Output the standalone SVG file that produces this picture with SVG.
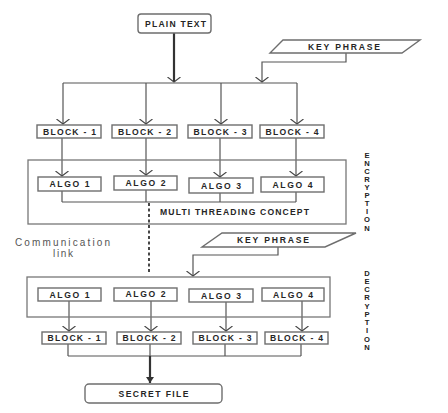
<svg xmlns="http://www.w3.org/2000/svg" width="448" height="413" viewBox="0 0 448 413">
  <style>
    .bg { fill: #ffffff; }
    .box { fill: #ffffff; stroke: #6e6e6e; stroke-width: 1.4; }
    .frame { fill: none; stroke: #777777; stroke-width: 1.3; }
    .lbl { font-family: "Liberation Sans", Arial, sans-serif; font-weight: bold; font-size: 8.6px; fill: #262626; text-anchor: middle; dominant-baseline: central; }
    .side { font-family: "Liberation Sans", Arial, sans-serif; font-weight: bold; font-size: 7.6px; fill: #222222; text-anchor: middle; dominant-baseline: central; }
    .note { font-family: "Liberation Sans", Arial, sans-serif; font-size: 10px; fill: #555555; text-anchor: middle; dominant-baseline: central; }
    .wire { fill: none; stroke: #555555; stroke-width: 1.2; }
    .thick { fill: none; stroke: #333333; stroke-width: 2.2; }
    .dash { fill: none; stroke: #333333; stroke-width: 1.8; stroke-dasharray: 3 2.5; }
  </style>
  <defs>
    <marker id="vhead" markerUnits="userSpaceOnUse" viewBox="0 0 6 14" refX="5" refY="7" markerWidth="6" markerHeight="14" orient="auto">
      <path d="M0,0.5 L5,7 L0,13.5" fill="none" stroke="#444444" stroke-width="1.1"/>
    </marker>
    <marker id="solidhead" markerUnits="userSpaceOnUse" viewBox="0 0 6 8" refX="6" refY="4" markerWidth="6" markerHeight="8" orient="auto">
      <path d="M0,0 L6,4 L0,8 Z" fill="#333333"/>
    </marker>
  </defs>

  <rect class="bg" x="0" y="0" width="448" height="413"/>

  <!-- connectors -->
  <g id="connectors">
    <!-- plain text down to the split bus -->
    <path class="thick" d="M174,33 V82" marker-end="url(#vhead)"/>
    <!-- key phrase (encryption) into the bus -->
    <path class="wire" d="M346,53 V62 H262 V82" marker-end="url(#vhead)"/>
    <!-- split bus -->
    <path class="wire" d="M63,83 H297"/>
    <path class="wire" d="M63,83 V124" marker-end="url(#vhead)"/>
    <path class="wire" d="M146,83 V124" marker-end="url(#vhead)"/>
    <path class="wire" d="M221,83 V124" marker-end="url(#vhead)"/>
    <path class="wire" d="M297,83 V124" marker-end="url(#vhead)"/>
    <!-- blocks into encryption algorithms -->
    <path class="wire" d="M62,138 V176" marker-end="url(#vhead)"/>
    <path class="wire" d="M146,138 V175" marker-end="url(#vhead)"/>
    <path class="wire" d="M220,138 V177" marker-end="url(#vhead)"/>
    <path class="wire" d="M296,138 V176" marker-end="url(#vhead)"/>
    <!-- encryption join -->
    <path class="wire" d="M62,191 V202 M146,190 V202 M220,193 V202 M296,192 V202 M62,202 H296"/>
    <!-- communication link -->
    <path class="dash" d="M149,203 V272"/>
    <!-- key phrase (decryption) -->
    <path class="wire" d="M278,247 V255 H193 V276" marker-end="url(#vhead)"/>
    <!-- decryption algorithms into blocks -->
    <path class="wire" d="M69,301 V331" marker-end="url(#vhead)"/>
    <path class="wire" d="M151,301 V331" marker-end="url(#vhead)"/>
    <path class="wire" d="M226,302 V331" marker-end="url(#vhead)"/>
    <path class="wire" d="M302,301 V331" marker-end="url(#vhead)"/>
    <!-- decryption join -->
    <path class="wire" d="M68,344 V356 M150,344 V356 M225,344 V356 M301,344 V356 M68,356 H301"/>
    <path class="thick" d="M150,356 V383" marker-end="url(#solidhead)"/>
  </g>

  <!-- containers -->
  <g id="encryption-stage">
    <rect class="frame" x="28" y="160" width="318" height="64"/>
    <text class="lbl" x="234.5" y="212" textLength="149" lengthAdjust="spacing">MULTI THREADING CONCEPT</text>
  </g>
  <g id="decryption-stage">
    <rect class="frame" x="27" y="277" width="303" height="40"/>
  </g>

  <g id="plain-text">
    <rect class="box" x="138" y="14" width="73" height="19" rx="3"/>
    <text class="lbl" x="175.5" y="23.5" textLength="61" lengthAdjust="spacing">PLAIN TEXT</text>
  </g>
  <g id="key-phrase-enc">
    <polygon class="box" points="283,40 420,40 402,53 270,53"/>
    <text class="lbl" x="344" y="47" textLength="72" lengthAdjust="spacing">KEY PHRASE</text>
  </g>

  <g id="block-1"><rect class="box" x="37" y="125" width="64" height="13"/><text class="lbl" x="69.5" y="131.5" textLength="53" lengthAdjust="spacing">BLOCK - 1</text></g>
  <g id="block-2"><rect class="box" x="112" y="125" width="65" height="13"/><text class="lbl" x="144.5" y="131.5" textLength="53" lengthAdjust="spacing">BLOCK - 2</text></g>
  <g id="block-3"><rect class="box" x="188" y="125" width="64" height="13"/><text class="lbl" x="220" y="131.5" textLength="53" lengthAdjust="spacing">BLOCK - 3</text></g>
  <g id="block-4"><rect class="box" x="260" y="125" width="64" height="13"/><text class="lbl" x="292" y="131.5" textLength="53" lengthAdjust="spacing">BLOCK - 4</text></g>

  <g id="enc-algo-1"><rect class="box" x="38" y="177" width="63" height="14"/><text class="lbl" x="69.5" y="184" textLength="40" lengthAdjust="spacing">ALGO 1</text></g>
  <g id="enc-algo-2"><rect class="box" x="114" y="176" width="63" height="14"/><text class="lbl" x="145.5" y="183" textLength="40" lengthAdjust="spacing">ALGO 2</text></g>
  <g id="enc-algo-3"><rect class="box" x="189" y="178" width="64" height="15"/><text class="lbl" x="221" y="185.5" textLength="40" lengthAdjust="spacing">ALGO 3</text></g>
  <g id="enc-algo-4"><rect class="box" x="261" y="177" width="63" height="15"/><text class="lbl" x="292.5" y="184.5" textLength="40" lengthAdjust="spacing">ALGO 4</text></g>

  <g id="communication-link">
    <text class="note" x="62.5" y="242" textLength="95" lengthAdjust="spacing">Communication</text>
    <text class="note" x="63" y="253" textLength="20" lengthAdjust="spacing">link</text>
  </g>

  <g id="key-phrase-dec">
    <polygon class="box" points="222,233 356,233 325,247 202,247"/>
    <text class="lbl" x="273" y="240" textLength="72" lengthAdjust="spacing">KEY PHRASE</text>
  </g>

  <g id="dec-algo-1"><rect class="box" x="38" y="288" width="63" height="13"/><text class="lbl" x="69.5" y="294.5" textLength="40" lengthAdjust="spacing">ALGO 1</text></g>
  <g id="dec-algo-2"><rect class="box" x="114" y="288" width="63" height="13"/><text class="lbl" x="145.5" y="294" textLength="40" lengthAdjust="spacing">ALGO 2</text></g>
  <g id="dec-algo-3"><rect class="box" x="189" y="289" width="64" height="13"/><text class="lbl" x="221" y="295.5" textLength="40" lengthAdjust="spacing">ALGO 3</text></g>
  <g id="dec-algo-4"><rect class="box" x="262" y="288" width="62" height="13"/><text class="lbl" x="293" y="294.5" textLength="40" lengthAdjust="spacing">ALGO 4</text></g>

  <g id="dec-block-1"><rect class="box" x="42" y="332" width="64" height="12"/><text class="lbl" x="74" y="338" textLength="53" lengthAdjust="spacing">BLOCK - 1</text></g>
  <g id="dec-block-2"><rect class="box" x="117" y="332" width="64" height="12"/><text class="lbl" x="149" y="338" textLength="53" lengthAdjust="spacing">BLOCK - 2</text></g>
  <g id="dec-block-3"><rect class="box" x="193" y="332" width="64" height="12"/><text class="lbl" x="225" y="338" textLength="53" lengthAdjust="spacing">BLOCK - 3</text></g>
  <g id="dec-block-4"><rect class="box" x="265" y="332" width="63" height="12"/><text class="lbl" x="296.5" y="338" textLength="53" lengthAdjust="spacing">BLOCK - 4</text></g>

  <g id="secret-file">
    <rect class="box" x="85" y="384" width="137" height="19" rx="4"/>
    <text class="lbl" x="153.5" y="393.5" textLength="70" lengthAdjust="spacing">SECRET FILE</text>
  </g>

  <!-- stage captions, one letter per line -->
  <g id="encryption-caption">
    <text class="side" x="367" y="155">E</text>
    <text class="side" x="367" y="163">N</text>
    <text class="side" x="367" y="171">C</text>
    <text class="side" x="367" y="179">R</text>
    <text class="side" x="367" y="187">Y</text>
    <text class="side" x="367" y="195">P</text>
    <text class="side" x="367" y="203">T</text>
    <text class="side" x="367" y="211">I</text>
    <text class="side" x="367" y="219.5">O</text>
    <text class="side" x="367" y="228">N</text>
  </g>
  <g id="decryption-caption">
    <text class="side" x="367" y="273">D</text>
    <text class="side" x="367" y="281">E</text>
    <text class="side" x="367" y="289.5">C</text>
    <text class="side" x="367" y="297.5">R</text>
    <text class="side" x="367" y="306">Y</text>
    <text class="side" x="367" y="314">P</text>
    <text class="side" x="367" y="322.5">T</text>
    <text class="side" x="367" y="330.5">I</text>
    <text class="side" x="367" y="339">O</text>
    <text class="side" x="367" y="347">N</text>
  </g>
</svg>
